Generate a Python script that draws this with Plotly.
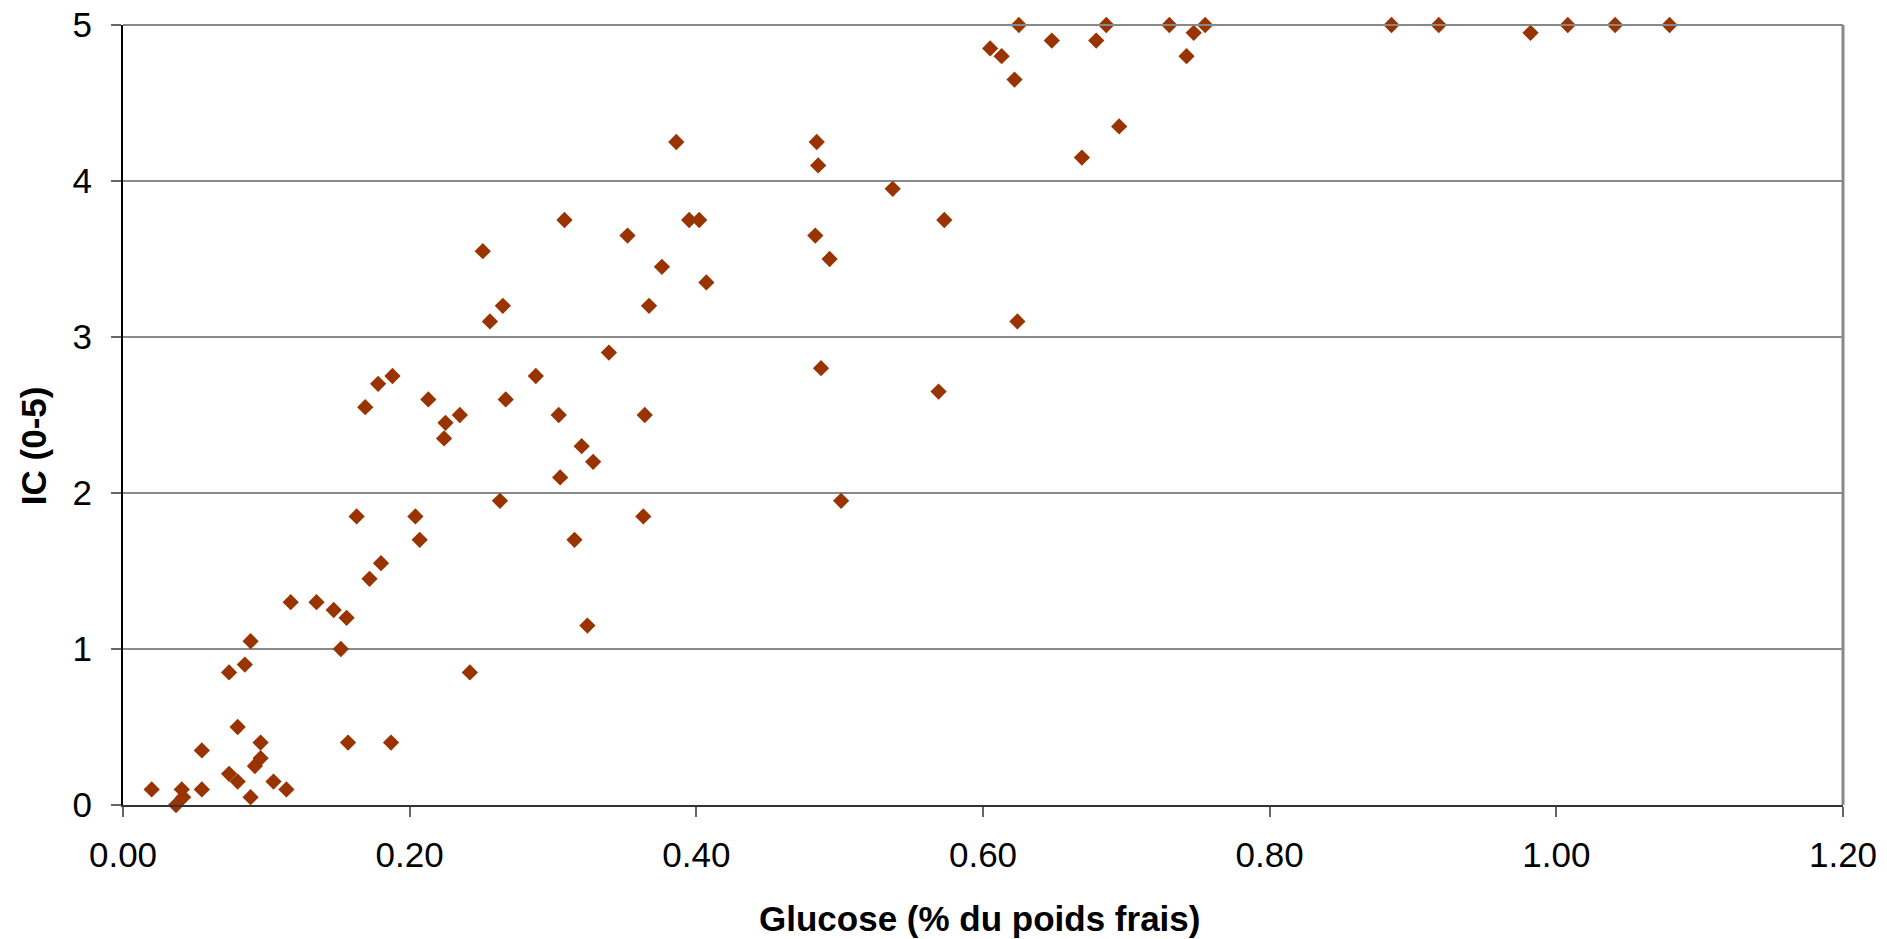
import plotly.graph_objects as go

# Glucose content (% fresh weight) and IC score (0-5) for each sample
glucose = [
    0.020, 0.037, 0.041, 0.042, 0.055, 0.055, 0.074, 0.074, 0.080, 0.080,
    0.085, 0.089, 0.089, 0.092, 0.096, 0.096, 0.105, 0.114, 0.117, 0.135,
    0.147, 0.152, 0.156, 0.157, 0.163, 0.169, 0.172, 0.178, 0.180, 0.187,
    0.188, 0.204, 0.207, 0.213, 0.224, 0.225, 0.235, 0.242, 0.251, 0.256,
    0.263, 0.265, 0.267, 0.288, 0.304, 0.305, 0.308, 0.315, 0.320, 0.324,
    0.328, 0.339, 0.352, 0.363, 0.364, 0.367, 0.376, 0.386, 0.395, 0.402,
    0.407, 0.483, 0.484, 0.485, 0.487, 0.493, 0.501, 0.537, 0.569, 0.573,
    0.605, 0.613, 0.622, 0.624, 0.625, 0.648, 0.669, 0.679, 0.686, 0.695,
    0.730, 0.742, 0.747, 0.755, 0.885, 0.918, 0.982, 1.008, 1.041, 1.079,
]
ic_score = [
    0.10, 0.00, 0.10, 0.05, 0.35, 0.10, 0.20, 0.85, 0.50, 0.15,
    0.90, 0.05, 1.05, 0.25, 0.40, 0.30, 0.15, 0.10, 1.30, 1.30,
    1.25, 1.00, 1.20, 0.40, 1.85, 2.55, 1.45, 2.70, 1.55, 0.40,
    2.75, 1.85, 1.70, 2.60, 2.35, 2.45, 2.50, 0.85, 3.55, 3.10,
    1.95, 3.20, 2.60, 2.75, 2.50, 2.10, 3.75, 1.70, 2.30, 1.15,
    2.20, 2.90, 3.65, 1.85, 2.50, 3.20, 3.45, 4.25, 3.75, 3.75,
    3.35, 3.65, 4.25, 4.10, 2.80, 3.50, 1.95, 3.95, 2.65, 3.75,
    4.85, 4.80, 4.65, 3.10, 5.00, 4.90, 4.15, 4.90, 5.00, 4.35,
    5.00, 4.80, 4.95, 5.00, 5.00, 5.00, 4.95, 5.00, 5.00, 5.00,
]

x_ticks = [0.0, 0.2, 0.4, 0.6, 0.8, 1.0, 1.2]
x_tick_labels = ["0.00", "0.20", "0.40", "0.60", "0.80", "1.00", "1.20"]
y_ticks = [0, 1, 2, 3, 4, 5]
y_tick_labels = ["0", "1", "2", "3", "4", "5"]

x_title = "Glucose (% du poids frais)"
y_title = "IC (0-5)"

FONT = "Liberation Sans, Arial, sans-serif"

fig = go.Figure(
    go.Scatter(
        x=glucose,
        y=ic_score,
        mode="markers",
        marker=dict(symbol="diamond", size=12.5, color="#993300", line=dict(width=0)),
        cliponaxis=False,
        hoverinfo="x+y",
    )
)

fig.update_layout(
    width=1887,
    height=939,
    margin=dict(l=123, r=44, t=25, b=134, autoexpand=False),
    paper_bgcolor="white",
    plot_bgcolor="white",
    showlegend=False,
    font=dict(family=FONT, size=35, color="black"),
)

fig.update_xaxes(
    range=[0, 1.2],
    tickvals=x_ticks,
    ticktext=x_tick_labels,
    automargin=False,
    showgrid=False,
    zeroline=False,
    showline=True,
    linecolor="#333333",
    linewidth=2,
    ticks="outside",
    ticklen=10,
    tickwidth=1.5,
    tickcolor="#666666",
    ticklabelstandoff=8,
    tickfont=dict(family=FONT, size=35, color="black"),
)

fig.update_yaxes(
    range=[0, 5],
    tickvals=y_ticks,
    ticktext=y_tick_labels,
    automargin=False,
    showgrid=True,
    gridcolor="#8a8a8a",
    gridwidth=1.5,
    zeroline=False,
    showline=True,
    linecolor="black",
    linewidth=2,
    ticks="outside",
    ticklen=10,
    tickwidth=1.5,
    tickcolor="#666666",
    ticklabelstandoff=12,
    tickfont=dict(family=FONT, size=35, color="black"),
)

# plot-area border on the right and top edges
fig.add_shape(type="line", xref="x domain", yref="y domain",
              x0=1, x1=1, y0=0, y1=1, line=dict(color="#888888", width=3))
fig.add_shape(type="line", xref="x domain", yref="y domain",
              x0=0, x1=1, y0=1, y1=1, line=dict(color="#888888", width=2))

fig.add_annotation(
    text=f"<b>{x_title}</b>", xref="paper", yref="paper",
    x=0.498, y=-0.145, xanchor="center", yanchor="middle",
    showarrow=False, font=dict(family=FONT, size=35, color="black"),
)
fig.add_annotation(
    text=f"<b>{y_title}</b>", xref="paper", yref="paper",
    x=0, y=0.46, xshift=-90, xanchor="center", yanchor="middle",
    textangle=-90, showarrow=False, font=dict(family=FONT, size=35, color="black"),
)

fig.write_html("out.html")
